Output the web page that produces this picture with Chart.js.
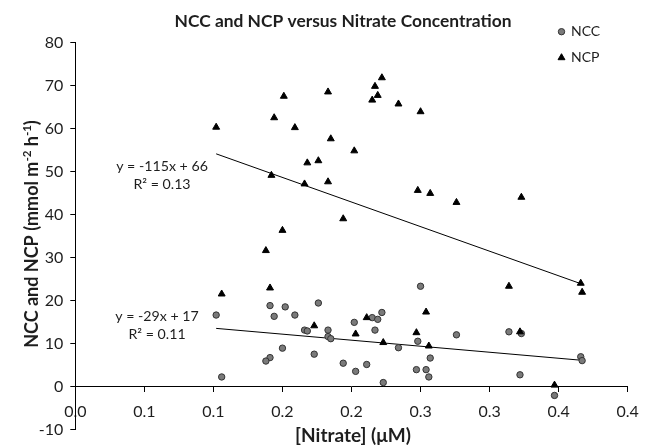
<!DOCTYPE html>
<html>
<head>
<meta charset="utf-8">
<script src="https://cdn.jsdelivr.net/npm/chart.js@4.4.0/dist/chart.umd.min.js"></script>
<style>
  html, body { margin: 0; padding: 0; background: #fff; }
  canvas { display: block; }
</style>
</head>
<body>
<canvas id="GraficoNitrato" width="650" height="446"></canvas>
<script>
// tick labels as printed on the x axis (rounded to 1 decimal)
var xTickLabels = ['0.0', '0.1', '0.1', '0.2', '0.2', '0.3', '0.3', '0.4', '0.4'];

// NCC (grey circles)
var nccX = [0.102, 0.106, 0.141, 0.152, 0.144, 0.159, 0.176, 0.166, 0.168, 0.183, 0.183, 0.185, 0.150,
            0.141, 0.138, 0.173, 0.194, 0.203, 0.211, 0.202, 0.215, 0.219, 0.222, 0.217, 0.223, 0.250,
            0.234, 0.248, 0.257, 0.247, 0.254, 0.256, 0.276, 0.314, 0.323, 0.322, 0.347, 0.366, 0.367];
var nccY = [16.6, 2.2, 18.8, 18.5, 16.3, 16.6, 19.4, 13.1, 12.9, 13.1, 11.6, 11.1, 8.9,
            6.7, 5.9, 7.5, 5.4, 3.5, 5.1, 14.9, 16.0, 15.6, 17.2, 13.1, 0.9, 23.3,
            9.0, 10.5, 6.6, 3.9, 3.9, 2.2, 12.0, 12.7, 12.3, 2.7, -2.1, 6.9, 6.0];

// NCP (black triangles)
var ncpX = [0.102, 0.144, 0.151, 0.159, 0.183, 0.185, 0.202, 0.168, 0.176, 0.142, 0.166, 0.183, 0.222,
            0.217, 0.219, 0.215, 0.234, 0.250, 0.194, 0.248, 0.257, 0.276, 0.323, 0.366, 0.367, 0.314,
            0.150, 0.138, 0.141, 0.106, 0.173, 0.211, 0.203, 0.223, 0.254, 0.247, 0.256, 0.322, 0.347];
var ncpY = [60.3, 62.5, 67.5, 60.2, 68.5, 57.6, 54.8, 52.0, 52.5, 49.1, 47.1, 47.6, 71.8,
            69.8, 67.7, 66.6, 65.7, 63.9, 39.0, 45.6, 44.9, 42.8, 44.0, 24.0, 21.9, 23.3,
            36.3, 31.6, 22.9, 21.5, 14.1, 16.0, 12.2, 10.2, 17.3, 12.5, 9.4, 12.7, 0.3];

// linear trend lines (end points)
var ncpTrendX = [0.102, 0.366];
var ncpTrendY = [54.1, 23.9];
var nccTrendX = [0.102, 0.366];
var nccTrendY = [13.5, 6.1];

var ncpEquation = ['y = -115x + 66', 'R\u00B2 = 0.13'];
var nccEquation = ['y = -29x + 17', 'R\u00B2 = 0.11'];

var corTexto = '#1e1e1e';

function juntar(xs, ys) {
    return xs.map(function (x, i) { return { x: x, y: ys[i] }; });
}

// y title pieces: [text, superscript?]
var tituloY = [['NCC and NCP (mmol m', false], ['-2', true], [' h', false], ['-1', true], [')', false]];

// title, axis titles, legend and trendline equations
var textos = {
    id: 'textos',
    afterDraw: function (chart) {
        var ctx = chart.ctx;
        var sx = chart.scales.x, sy = chart.scales.y;
        var area = chart.chartArea;
        ctx.save();
        ctx.fillStyle = corTexto;
        ctx.textBaseline = 'middle';
        ctx.textAlign = 'center';
        ctx.font = 'bold 17.4px Lato';
        ctx.fillText('NCC and NCP versus Nitrate Concentration', 343, 21);

        // x axis title
        ctx.font = 'bold 19px Lato';
        ctx.textBaseline = 'alphabetic';
        ctx.fillText('[Nitrate] (\u03BCM)', (area.left + area.right) / 2 + 1.5, 441.5);

        // y axis title, rotated, with superscripts
        var fNormal = 'bold 18px Lato', fSup = 'bold 11.5px Lato';
        var total = 0;
        tituloY.forEach(function (p) {
            ctx.font = p[1] ? fSup : fNormal;
            total += ctx.measureText(p[0]).width;
        });
        ctx.save();
        ctx.translate(37.5, 234);
        ctx.rotate(-Math.PI / 2);
        ctx.textAlign = 'left';
        var px = -total / 2;
        tituloY.forEach(function (p) {
            ctx.font = p[1] ? fSup : fNormal;
            ctx.fillText(p[0], px, p[1] ? -7 : 0);
            px += ctx.measureText(p[0]).width;
        });
        ctx.restore();

        ctx.textBaseline = 'middle';
        ctx.font = '14.2px Lato';
        ctx.fillText(ncpEquation[0], sx.getPixelForValue(0.0628), sy.getPixelForValue(51.2));
        ctx.fillText(ncpEquation[1], sx.getPixelForValue(0.0628), sy.getPixelForValue(46.9));
        ctx.fillText(nccEquation[0], sx.getPixelForValue(0.0592), sy.getPixelForValue(16.2));
        ctx.fillText(nccEquation[1], sx.getPixelForValue(0.0592), sy.getPixelForValue(12.0));

        // legend
        ctx.textAlign = 'left';
        ctx.font = '14px Lato';
        chart.data.datasets.slice(0, 2).forEach(function (ds, i) {
            var y = 31.7 + i * 26;
            ctx.fillStyle = ds.backgroundColor;
            ctx.strokeStyle = ds.borderColor;
            ctx.lineWidth = ds.borderWidth;
            Chart.helpers.drawPoint(ctx, { pointStyle: ds.pointStyle, radius: ds.pointRadius, borderWidth: ds.borderWidth }, 561.5, y);
            ctx.fillStyle = corTexto;
            ctx.fillText(ds.label, 571, y);
        });
        ctx.restore();
    }
};

Chart.defaults.font.family = 'Lato';
Chart.defaults.color = corTexto;

var ctx = document.getElementById('GraficoNitrato').getContext('2d');
var grafico = new Chart(ctx, {
    type: 'scatter',
    data: {
        datasets: [
            {
                label: 'NCC',
                data: juntar(nccX, nccY),
                pointStyle: 'circle',
                pointRadius: 3.2,
                backgroundColor: '#7a7a7a',
                borderColor: '#333333',
                borderWidth: 1,
                order: 2
            },
            {
                label: 'NCP',
                data: juntar(ncpX, ncpY),
                pointStyle: 'triangle',
                pointRadius: 4,
                backgroundColor: '#000000',
                borderColor: '#000000',
                borderWidth: 1,
                order: 1
            },
            {
                label: 'NCP trend',
                type: 'line',
                data: juntar(ncpTrendX, ncpTrendY),
                borderColor: '#000000',
                borderWidth: 1,
                pointRadius: 0,
                fill: false,
                order: 3
            },
            {
                label: 'NCC trend',
                type: 'line',
                data: juntar(nccTrendX, nccTrendY),
                borderColor: '#000000',
                borderWidth: 1,
                pointRadius: 0,
                fill: false,
                order: 3
            }
        ]
    },
    options: {
        responsive: false,
        animation: false,
        events: [],
        layout: { padding: { left: 0, right: 22.3, top: 42.5, bottom: 14.8 } },
        plugins: {
            legend: { display: false },
            title: { display: false },
            tooltip: { enabled: false }
        },
        scales: {
            x: {
                type: 'linear',
                position: { y: 0 },
                min: 0,
                max: 0.4,
                grid: { drawOnChartArea: false, drawTicks: true, tickLength: 5, color: '#000' },
                border: { display: true, color: '#000', width: 1 },
                ticks: {
                    stepSize: 0.05,
                    padding: 11,
                    font: { size: 16 },
                    color: corTexto,
                    callback: function (v, i) { return xTickLabels[i]; }
                },
                title: { display: false }
            },
            y: {
                type: 'linear',
                min: -10,
                max: 80,
                afterFit: function (s) { s.width = 75.3; },
                grid: { drawOnChartArea: false, drawTicks: true, tickLength: 5, color: '#000' },
                border: { display: true, color: '#000', width: 1 },
                ticks: {
                    stepSize: 10,
                    padding: 7,
                    font: { size: 16 },
                    color: corTexto
                },
                title: { display: false }
            }
        }
    },
    plugins: [textos]
});
</script>
</body>
</html>
